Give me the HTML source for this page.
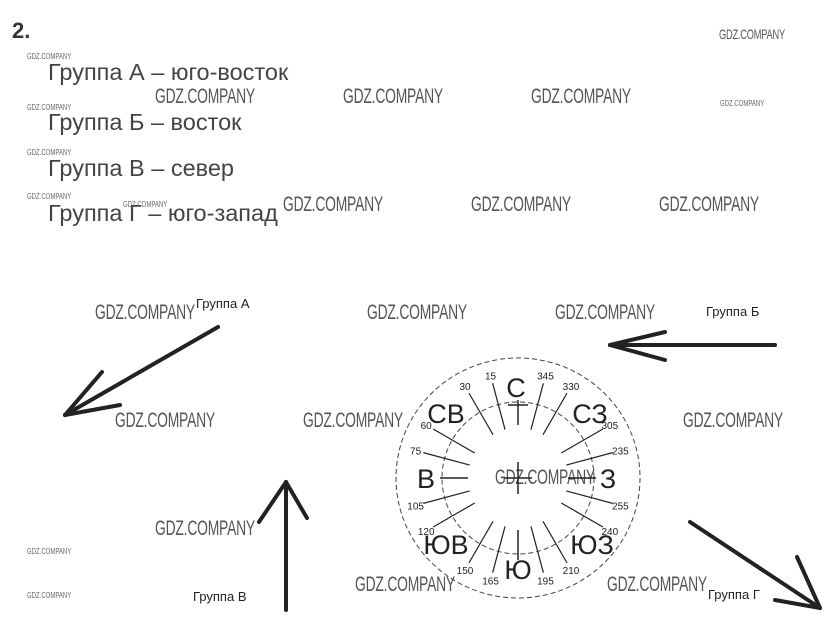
<!DOCTYPE html>
<html><head><meta charset="utf-8"><style>
body{margin:0;background:#fff;}
.wrap{position:relative;width:834px;height:630px;overflow:hidden;font-family:"Liberation Sans",sans-serif;}
.t{position:absolute;left:48px;font-size:23.5px;color:#444;white-space:nowrap;}
.w{position:absolute;font-size:21px;color:#555;transform:scaleX(0.66);transform-origin:0 0;white-space:nowrap;letter-spacing:-0.3px;}
.ws{position:absolute;font-size:8px;color:#666;transform:scaleX(0.75);transform-origin:0 0;white-space:nowrap;}
.g{position:absolute;font-size:13px;color:#222;white-space:nowrap;}
</style></head><body><div class="wrap">
<div style="position:absolute;left:12px;top:18px;font-size:22px;font-weight:bold;color:#333">2.</div>
<div class="t" style="top:59px">Группа А – юго-восток</div>
<div class="t" style="top:109px">Группа Б – восток</div>
<div class="t" style="top:155px">Группа В – север</div>
<div class="t" style="top:200px">Группа Г – юго-запад</div>

<div class="ws" style="left:27px;top:52px">GDZ.COMPANY</div>
<div class="ws" style="left:27px;top:103px">GDZ.COMPANY</div>
<div class="ws" style="left:27px;top:148px">GDZ.COMPANY</div>
<div class="ws" style="left:27px;top:192px">GDZ.COMPANY</div>
<div class="ws" style="left:123px;top:200px">GDZ.COMPANY</div>
<div class="ws" style="left:720px;top:99px">GDZ.COMPANY</div>
<div class="ws" style="left:27px;top:547px">GDZ.COMPANY</div>
<div class="ws" style="left:27px;top:591px">GDZ.COMPANY</div>
<div class="w" style="left:719px;top:26px;font-size:14px">GDZ.COMPANY</div>

<div class="w" style="left:155px;top:85px">GDZ.COMPANY</div>
<div class="w" style="left:343px;top:85px">GDZ.COMPANY</div>
<div class="w" style="left:531px;top:85px">GDZ.COMPANY</div>
<div class="w" style="left:283px;top:193px">GDZ.COMPANY</div>
<div class="w" style="left:471px;top:193px">GDZ.COMPANY</div>
<div class="w" style="left:659px;top:193px">GDZ.COMPANY</div>
<div class="w" style="left:95px;top:301px">GDZ.COMPANY</div>
<div class="w" style="left:367px;top:301px">GDZ.COMPANY</div>
<div class="w" style="left:555px;top:301px">GDZ.COMPANY</div>
<div class="w" style="left:115px;top:409px">GDZ.COMPANY</div>
<div class="w" style="left:303px;top:409px">GDZ.COMPANY</div>
<div class="w" style="left:683px;top:409px">GDZ.COMPANY</div>
<div class="w" style="left:495px;top:466px">GDZ.COMPANY</div>
<div class="w" style="left:155px;top:517px">GDZ.COMPANY</div>
<div class="w" style="left:355px;top:573px">GDZ.COMPANY</div>
<div class="w" style="left:607px;top:573px">GDZ.COMPANY</div>

<div class="g" style="left:196px;top:296px">Группа А</div>
<div class="g" style="left:706px;top:304px">Группа Б</div>
<div class="g" style="left:193px;top:589px">Группа В</div>
<div class="g" style="left:708px;top:587px">Группа Г</div>

<svg width="834" height="630" style="position:absolute;left:0;top:0" font-family="Liberation Sans, sans-serif">
<g stroke="#222" stroke-width="4" stroke-linecap="round" fill="none">
<line x1="218" y1="327" x2="65" y2="415"/><line x1="65" y1="415" x2="102" y2="372"/><line x1="65" y1="415" x2="120" y2="405"/>
<line x1="775" y1="345" x2="610" y2="345"/><line x1="610" y1="345" x2="665" y2="332"/><line x1="610" y1="345" x2="665" y2="360"/>
<line x1="286" y1="610" x2="286" y2="482"/><line x1="286" y1="482" x2="259" y2="522"/><line x1="286" y1="482" x2="307" y2="518"/>
<line x1="690" y1="522" x2="820" y2="608"/><line x1="820" y1="608" x2="797" y2="557"/><line x1="820" y1="608" x2="775" y2="600"/>
</g>
<g fill="none" stroke="#444" stroke-width="1" stroke-dasharray="5,3">
<ellipse cx="518" cy="478" rx="122" ry="120"/>
<circle cx="518" cy="478" r="76"/>
</g>
<g stroke="#222" stroke-width="1.2" id="ticks"></g>
<g stroke="#222" stroke-width="1.5">
<line x1="518" y1="400" x2="518" y2="425"/><line x1="508" y1="405" x2="528" y2="405"/>
<line x1="518" y1="530" x2="518" y2="560"/>
<line x1="440" y1="478" x2="468" y2="478"/>
<line x1="568" y1="478" x2="596" y2="478"/>
<line x1="518" y1="462" x2="518" y2="494"/><line x1="504" y1="478" x2="532" y2="478"/>
</g>
<g fill="#222" font-size="27" text-anchor="middle">
<text x="516" y="397">С</text><text x="446" y="423">СВ</text><text x="590" y="423">СЗ</text>
<text x="426" y="488">В</text><text x="608" y="488">З</text>
<text x="446" y="554">ЮВ</text><text x="518" y="579">Ю</text><text x="592" y="554">ЮЗ</text>
</g>
<g fill="#222" font-size="10" text-anchor="middle" id="nums"></g>
</svg>
<script>
var t=document.getElementById('ticks'),n=document.getElementById('nums');
var labs={15:"15",30:"30",60:"60",75:"75",105:"105",120:"120",150:"150",165:"165",195:"195",210:"210",240:"240",255:"255",285:"235",300:"305",330:"330",345:"345"};
for(var b in labs){var a=b*Math.PI/180,s=Math.sin(a),c=Math.cos(a);
var l=document.createElementNS('http://www.w3.org/2000/svg','line');
l.setAttribute('x1',518-50*s);l.setAttribute('y1',478-50*c);l.setAttribute('x2',518-98*s);l.setAttribute('y2',478-98*c);t.appendChild(l);
var x=document.createElementNS('http://www.w3.org/2000/svg','text');
x.setAttribute('x',518-106*s);x.setAttribute('y',478-106*c+4);x.textContent=labs[b];n.appendChild(x);}
</script>
</div></body></html>
